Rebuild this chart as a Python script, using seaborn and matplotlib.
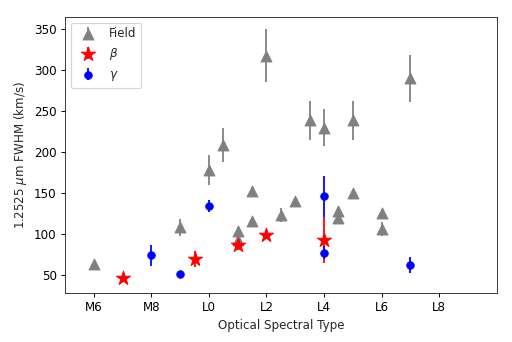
import numpy as np
import pandas as pd
import seaborn as sns
import matplotlib.pyplot as plt

# spectral type as number: M6 = 6, L0 = 10, L8 = 18
field_spt = [6, 9, 10, 10.5, 11, 11, 11.5, 11.5, 12, 12.5, 13, 13.5, 14, 14.5, 14.5, 15, 15, 16, 16, 17]
field_fwhm = [63, 108, 178, 209, 103, 93, 153, 116, 318, 123, 140, 239, 230, 128, 120, 239, 150, 126, 106, 290]
field_err = [3, 10, 18, 21, 5, 5, 4, 4, 32, 9, 4, 24, 23, 5, 5, 24, 4, 5, 9, 29]

beta_spt = [7, 9.5, 11, 12, 14]
beta_fwhm = [46, 69, 86, 99, 93]
beta_err = [3, 10, 6, 4, 28]

gamma_spt = [8, 9, 10, 14, 14, 17]
gamma_fwhm = [74, 51, 134, 146, 77, 62]
gamma_err = [13, 3, 7, 25, 8, 10]

tick_pos = [6, 8, 10, 12, 14, 16, 18]
tick_labels = ['M6', 'M8', 'L0', 'L2', 'L4', 'L6', 'L8']

sns.set_style('ticks')
plt.rcParams['font.family'] = ['DejaVu Sans']

fig = plt.figure(figsize=(6, 342 / (512 / 6)), dpi=512 / 6)
ax = fig.add_axes([0.127, 0.143, 0.843, 0.808])

groups = [
    ('Field', field_spt, field_fwhm, field_err, 'gray', '^', 85),
    (r'$\beta$', beta_spt, beta_fwhm, beta_err, 'red', '*', 160),
    (r'$\gamma$', gamma_spt, gamma_fwhm, gamma_err, 'blue', 'o', 40),
]

handles = []
labels = []
z = 2
for name, x, y, e, col, mk, s in groups:
    df = pd.DataFrame({'spt': x, 'fwhm': y})
    eb = ax.errorbar(x, y, yerr=e, fmt='none', ecolor=col, elinewidth=1.5, zorder=z)
    sns.scatterplot(data=df, x='spt', y='fwhm', ax=ax, color=col, marker=mk, s=s,
                    edgecolor=col, linewidth=0.8, zorder=z + 1, legend=False)
    pts = ax.collections[-1]
    handles.append((eb, pts))
    labels.append(name)
    z += 2

ax.set_xlim(5, 20)
ax.set_xticks(tick_pos)
ax.set_xticklabels(tick_labels)
ax.set_xlabel('Optical Spectral Type', fontsize=10)
ax.set_ylabel(r'1.2525 $\mu$m FWHM (km/s)', fontsize=10)
ax.tick_params(labelsize=10, colors='black')
for sp in ax.spines.values():
    sp.set_color('#333333')

ax.legend(handles, labels, loc='upper left', frameon=True, fontsize=10)

plt.savefig('out.png', dpi=512 / 6)
